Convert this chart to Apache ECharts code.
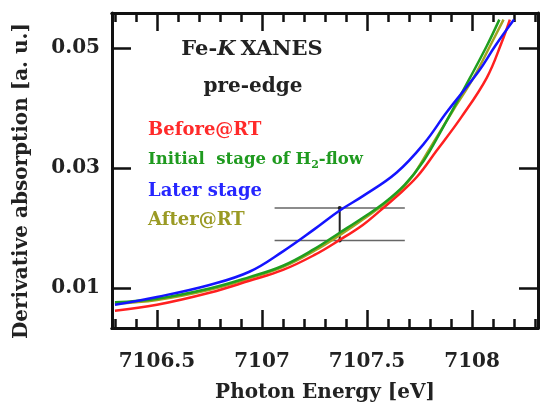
<!DOCTYPE html>
<html>
<head>
<meta charset="utf-8">
<script src="https://cdn.jsdelivr.net/npm/echarts@6/dist/echarts.min.js"></script>
<style>
  html, body { margin: 0; padding: 0; background: #fff; }
  #chart { width: 544px; height: 412px; }
</style>
</head>
<body>
<div id="chart"></div>
<script>
// photon energy axis ticks
var xMajorTicks = [7106.5, 7107, 7107.5, 7108];
var xMinorTicks = [7106.3, 7106.4, 7106.6, 7106.7, 7106.8, 7106.9, 7107.1, 7107.2, 7107.3, 7107.4,
                   7107.6, 7107.7, 7107.8, 7107.9, 7108.1, 7108.2, 7108.3];
var yTicks = [0.01, 0.03, 0.05];

// Before@RT
var energyRed = [7106.30, 7106.50, 7106.75, 7106.94, 7107.10, 7107.25, 7107.37, 7107.48, 7107.56,
                 7107.64, 7107.74, 7107.83, 7107.95, 7108.07, 7108.14, 7108.18];
var before = [0.0062, 0.0072, 0.0092, 0.0112, 0.0130, 0.0155, 0.0180, 0.0205, 0.0228,
              0.0252, 0.0286, 0.0328, 0.0385, 0.0450, 0.0508, 0.0547];

// Initial stage of H2-flow
var energyGreen = [7106.30, 7106.50, 7106.75, 7106.94, 7107.10, 7107.25, 7107.37, 7107.48, 7107.58,
                   7107.68, 7107.77, 7107.85, 7107.99, 7108.07, 7108.13];
var initial = [0.0076, 0.0082, 0.0099, 0.0118, 0.0137, 0.0165, 0.0192, 0.0217, 0.0241,
               0.0272, 0.0312, 0.0360, 0.0450, 0.0503, 0.0547];

// Later stage
var energyBlue = [7106.30, 7106.50, 7106.75, 7106.94, 7107.10, 7107.25, 7107.37, 7107.48,
                  7107.64, 7107.77, 7107.88, 7108.03, 7108.11, 7108.20];
var later = [0.0072, 0.0085, 0.0105, 0.0127, 0.0161, 0.0198, 0.0229, 0.0253,
             0.0292, 0.0340, 0.0393, 0.0460, 0.0503, 0.0547];

// After@RT
var energyOlive = [7106.30, 7106.50, 7106.75, 7106.94, 7107.10, 7107.25, 7107.37, 7107.48, 7107.64,
                   7107.71, 7107.80, 7107.91, 7108.01, 7108.09, 7108.15];
var after = [0.0074, 0.0080, 0.0097, 0.0116, 0.0135, 0.0162, 0.0188, 0.0214, 0.0256,
             0.0283, 0.0333, 0.0396, 0.0452, 0.0506, 0.0547];

// guide lines marking the shift
var guideEnergies = [7107.06, 7107.68];
var guideLevels = [0.0179, 0.0233];
var guideMark = 7107.37;

var xMin = 7106.286, xMax = 7108.314;
var yMin = 0.00333, yMax = 0.0558;

var serif = '"DejaVu Serif", "Liberation Serif", serif';
var frameColor = '#111';

function pairs(xs, ys) {
   return xs.map(function (x, i) { return [x, ys[i]]; });
}

function xAxisPart(position, ticks, len, withLabel) {
   return {
      type: 'value',
      position: position,
      min: xMin,
      max: xMax,
      splitLine: {show: false},
      axisLine: {show: true, onZero: false, lineStyle: {color: frameColor, width: 3}},
      axisTick: {show: true, inside: true, length: len, customValues: ticks,
         lineStyle: {color: frameColor, width: 2.5}},
      axisLabel: withLabel ? {
         show: true, customValues: ticks, margin: 24,
         formatter: function (v) { return String(v); },
         fontFamily: serif, fontWeight: 'bold', fontSize: 20, color: '#222'
      } : {show: false}
   };
}

function yAxisPart(position, withLabel) {
   return {
      type: 'value',
      position: position,
      min: yMin,
      max: yMax,
      splitLine: {show: false},
      axisLine: {show: true, onZero: false, lineStyle: {color: frameColor, width: 3}},
      axisTick: {show: true, inside: true, length: 19, customValues: yTicks,
         lineStyle: {color: frameColor, width: 2.5}},
      axisLabel: withLabel ? {
         show: true, customValues: yTicks, margin: 12,
         formatter: function (v) { return v.toFixed(2); },
         fontFamily: serif, fontWeight: 'bold', fontSize: 20, color: '#222'
      } : {show: false}
   };
}

function curve(name, xs, ys, color) {
   return {
      name: name,
      type: 'line',
      xAxisIndex: 0,
      yAxisIndex: 0,
      data: pairs(xs, ys),
      smooth: 0.4,
      showSymbol: false,
      lineStyle: {color: color, width: 2.5},
      itemStyle: {color: color},
      z: 3
   };
}

function guide(points, color, width, symbolSize) {
   return {
      type: 'line',
      xAxisIndex: 0,
      yAxisIndex: 0,
      data: points,
      symbol: 'circle',
      symbolSize: symbolSize,
      showSymbol: symbolSize > 0,
      lineStyle: {color: color, width: width},
      itemStyle: {color: color},
      silent: true,
      z: 2
   };
}

var myChart = echarts.init(document.getElementById('chart'));

myChart.setOption({
   animation: false,
   grid: {left: 112, right: 6, top: 13, bottom: 84},
   xAxis: [
      Object.assign(xAxisPart('bottom', xMajorTicks, 18, true), {
         name: 'Photon Energy [eV]',
         nameLocation: 'middle',
         nameGap: 55,
         nameTextStyle: {fontFamily: serif, fontWeight: 'bold', fontSize: 20, color: '#222'}
      }),
      xAxisPart('bottom', xMinorTicks, 9, false),
      xAxisPart('top', xMajorTicks, 18, false),
      xAxisPart('top', xMinorTicks, 9, false)
   ],
   yAxis: [
      yAxisPart('left', true),
      yAxisPart('right', false)
   ],
   graphic: [
      {
         type: 'text', x: 22, y: 181, rotation: Math.PI / 2,
         style: {
            text: 'Derivative absorption [a. u.]',
            font: 'bold 20px ' + serif, fill: '#222',
            textAlign: 'center', textVerticalAlign: 'middle'
         }
      },
      {
         type: 'text', x: 252, y: 50,
         style: {
            text: '{n|Fe-}{i|K}{n|XANES}',
            textAlign: 'center', textVerticalAlign: 'middle',
            rich: {
               n: {fontFamily: serif, fontWeight: 'bold', fontSize: 21, fill: '#222'},
               i: {fontFamily: serif, fontWeight: 'bold', fontStyle: 'italic', fontSize: 21, fill: '#222', padding: [0, 5, 0, 0]}
            }
         }
      },
      {
         type: 'text', x: 253, y: 87,
         style: {
            text: 'pre-edge', font: 'bold 20px ' + serif, fill: '#222',
            textAlign: 'center', textVerticalAlign: 'middle'
         }
      },
      {
         type: 'text', x: 148, y: 130,
         style: {text: 'Before@RT', font: 'bold 18px ' + serif, fill: '#ff2a2a', textVerticalAlign: 'middle'}
      },
      {
         type: 'text', x: 148, y: 160,
         style: {
            text: '{a|Initial  stage of H}{s|2}{a|-flow}',
            textVerticalAlign: 'middle',
            rich: {
               a: {fontFamily: serif, fontWeight: 'bold', fontSize: 16.5, fill: '#1f9a1f', lineHeight: 22, verticalAlign: 'middle'},
               s: {fontFamily: serif, fontWeight: 'bold', fontSize: 11, fill: '#1f9a1f', lineHeight: 22, verticalAlign: 'bottom'}
            }
         }
      },
      {
         type: 'text', x: 148, y: 191,
         style: {text: 'Later stage', font: 'bold 18px ' + serif, fill: '#2626ff', textVerticalAlign: 'middle'}
      },
      {
         type: 'text', x: 148, y: 220,
         style: {text: 'After@RT', font: 'bold 18px ' + serif, fill: '#9a9a24', textVerticalAlign: 'middle'}
      }
   ],
   series: [
      guide([[guideEnergies[0], guideLevels[0]], [guideEnergies[1], guideLevels[0]]], '#666', 1.5, 0),
      guide([[guideEnergies[0], guideLevels[1]], [guideEnergies[1], guideLevels[1]]], '#666', 1.5, 0),
      guide([[guideMark, guideLevels[0]], [guideMark, guideLevels[1]]], '#222', 2, 4),
      curve('After@RT', energyOlive, after, '#a3a321'),
      curve('Before@RT', energyRed, before, '#ff2020'),
      curve('Initial stage of H2-flow', energyGreen, initial, '#1f9f1f'),
      curve('Later stage', energyBlue, later, '#1414ff')
   ]
});
</script>
</body>
</html>
